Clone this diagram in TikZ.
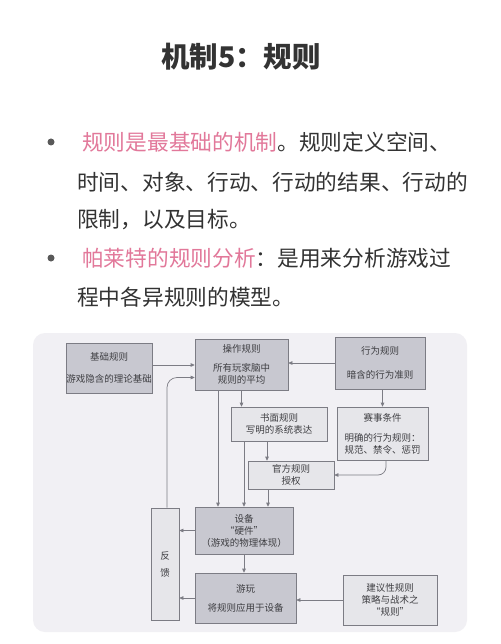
\documentclass[tikz,border=0pt]{standalone}
\usepackage{fontspec}
\setmainfont{Noto Sans CJK SC}
\usetikzlibrary{arrows.meta}
\definecolor{txt}{HTML}{333333}
\definecolor{pinkt}{HTML}{E2789A}
\definecolor{panel}{HTML}{F1F0F4}
\definecolor{darkfill}{HTML}{C8C8D0}
\definecolor{lightfill}{HTML}{E6E6EA}
\definecolor{edge}{HTML}{7C7C84}
\definecolor{btxt}{HTML}{3E3E42}
\tikzset{
  box/.style={draw=edge, line width=0.7pt, inner sep=0pt, align=center, text=btxt,
    font=\fontsize{9.5}{12}\selectfont},
  darkbox/.style={box, fill=darkfill},
  lightbox/.style={box, fill=lightfill},
  arr/.style={draw=edge, line width=0.7pt, -{Triangle[length=4pt,width=3.6pt]}},
  bigtext/.style={anchor=west, inner sep=0pt, text=txt, font=\fontsize{21.7}{26}\selectfont},
  dotb/.style={circle, fill=black!65, inner sep=0pt, minimum size=7pt}
}
\begin{document}
\begin{tikzpicture}[x=1pt,y=-1pt]
\useasboundingbox (0,0) rectangle (500,644);
\fill[white] (0,0) rectangle (500,644);
% title
\node[text=txt, font=\fontsize{28.5}{32}\selectfont\bfseries] (title) at (241,57) {机制5：规则};
% bullets
\node[dotb] (b1) at (51,142) {};
\node[bigtext] (l1) at (82,142) {{\color{pinkt}规则是最基础的机制}。规则定义空间、};
\node[bigtext] (l2) at (77,182) {时间、对象、行动、行动的结果、行动的};
\node[bigtext] (l3) at (77,220) {限制，以及目标。};
\node[dotb] (b2) at (51,258) {};
\node[bigtext] (l4) at (82,258) {{\color{pinkt}帕莱特的规则分析}：是用来分析游戏过};
\node[bigtext] (l5) at (77,297) {程中各异规则的模型。};
% panel
\fill[panel, rounded corners=12pt] (33,333) rectangle (467,632);
% boxes
\node[darkbox, minimum width=86pt, minimum height=50pt] (jc) at (109,368) {基础规则\\[10pt]游戏隐含的理论基础};
\node[darkbox, minimum width=93pt, minimum height=51pt] (cz) at (241.5,364.5) {操作规则\\[7pt]所有玩家脑中\\规则的平均};
\node[darkbox, minimum width=90pt, minimum height=52pt] (xw) at (380,363) {行为规则\\[12pt]暗含的行为准则};
\node[lightbox, minimum width=96pt, minimum height=34pt] (sm) at (279,424) {书面规则\\写明的系统表达};
\node[lightbox, minimum width=91pt, minimum height=53pt] (ss) at (382.5,433.5) {赛事条件\\[8pt]明确的行为规则：\\规范、禁令、惩罚};
\node[lightbox, minimum width=86pt, minimum height=28pt] (gf) at (291,475) {官方规则\\授权};
\node[darkbox, minimum width=98pt, minimum height=47pt] (sb) at (244,530.5) {设备\\“硬件”\\（游戏的物理体现）};
\node[darkbox, minimum width=101pt, minimum height=50pt] (yw) at (245.5,598) {游玩\\[7pt]将规则应用于设备};
\node[lightbox, minimum width=28pt, minimum height=112pt] (fk) at (165,564) {反\\[5pt]馈};
\node[lightbox, minimum width=94pt, minimum height=50pt] (jy) at (390,600) {建议性规则\\策略与战术之\\“规则”};
% connectors
\draw[arr] ([yshift=3pt]jc.east) -- ([yshift=3pt]jc.east -| cz.west);
\draw[arr, rounded corners=10pt] ([xshift=2pt]fk.north) |- ([yshift=-13pt]cz.west);
\draw[arr] (xw.west) -- (xw.west -| cz.east);
\draw[arr] (cz.south) -- (cz.south |- sm.north);
\draw[arr] ([xshift=-23.5pt]cz.south) -- ([xshift=-23.5pt]cz.south |- sb.north);
\draw[arr] (sb.north |- sm.south) -- (sb.north);
\draw[arr] ([xshift=-12pt]sm.south) -- ([xshift=-12pt]sm.south |- gf.north);
\draw[arr] ([xshift=-23pt]gf.south) -- ([xshift=-23pt]gf.south |- sb.north);
\draw[arr] (ss.north |- xw.south) -- (ss.north);
\draw[arr, rounded corners=8pt] ([xshift=3.5pt]ss.south) |- (gf.east);
\draw[arr] (sb.west) -- (sb.west -| fk.east);
\draw[arr] (sb.south) -- (sb.south |- yw.north);
\draw[arr] (yw.west) -- (yw.west -| fk.east);
\draw[arr] (jy.west) -- (jy.west -| yw.east);
\end{tikzpicture}
\end{document}
